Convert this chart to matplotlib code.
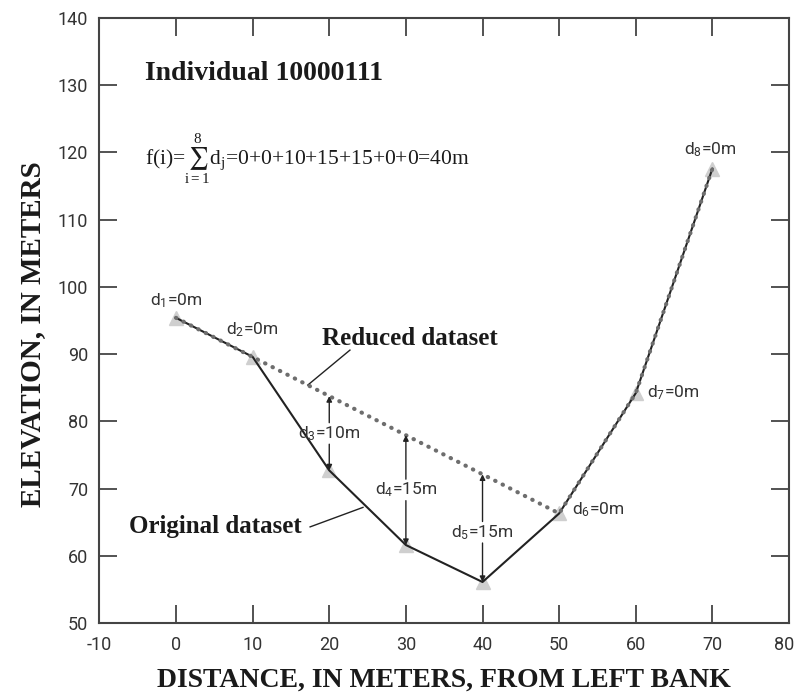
import matplotlib
matplotlib.use('Agg')
from matplotlib import pyplot as plt
from matplotlib.transforms import ScaledTranslation
import numpy as np

# original cross-section survey points
distance = [0, 10, 20, 30, 40, 50, 60, 70]
elevation = [95.4, 89.6, 72.7, 61.6, 56.1, 66.3, 84.2, 117.6]

# reduced dataset keeps points 1, 6, 7, 8
reduced_dist = [0, 50, 60, 70]
reduced_elev = [95.4, 66.3, 84.2, 117.6]

d_labels = ['d$_1$=0m', 'd$_2$=0m', 'd$_3$=10m', 'd$_4$=15m',
            'd$_5$=15m', 'd$_6$=0m', 'd$_7$=0m', 'd$_8$=0m']
x_ticks = list(range(-10, 81, 10))
y_ticks = list(range(50, 141, 10))

plt.rcParams['axes.unicode_minus'] = False
plt.rcParams['mathtext.fontset'] = 'custom'
plt.rcParams['mathtext.rm'] = 'Roboto'
plt.rcParams['mathtext.it'] = 'Roboto'
narrow = 'Roboto'
serif = 'Liberation Serif'
dcol = '#333333'

fig = plt.figure(figsize=(7.95, 6.94), dpi=100)
ax = fig.add_axes([0.125, 0.1023, 0.8675, 0.8717])

ax.plot(distance, elevation, ls='none', marker='^', ms=10,
        color='#cfcfcf', zorder=2)
ax.plot(distance, elevation, color='#222222', lw=1.5, zorder=3)
ax.plot(reduced_dist, reduced_elev, color='#6e6e6e', lw=3.0,
        ls=(0, (0.1, 1.9)), dash_capstyle='round', zorder=4)

# vertical distances between reduced and original line
label_y = {2: 78.2, 3: 69.8, 4: 63.5}
for i, ly in label_y.items():
    x = distance[i]
    top = np.interp(x, reduced_dist, reduced_elev)
    bot = elevation[i]
    ax.annotate('', xy=(x, top), xytext=(x, ly + 1.6),
                arrowprops=dict(arrowstyle='-|>', color='#222222', lw=1,
                                mutation_scale=8, shrinkA=0, shrinkB=0), zorder=5)
    ax.annotate('', xy=(x, bot), xytext=(x, ly - 1.6),
                arrowprops=dict(arrowstyle='-|>', color='#222222', lw=1,
                                mutation_scale=8, shrinkA=0, shrinkB=0), zorder=5)
    ax.text(x, ly, d_labels[i], ha='center', va='center', fontsize=12.5,
            family=narrow, color=dcol, zorder=6)

ax.text(0, 98.0, d_labels[0], ha='center', va='center', fontsize=12.5,
        family=narrow, color=dcol)
ax.text(10, 93.6, d_labels[1], ha='center', va='center', fontsize=12.5,
        family=narrow, color=dcol)
ax.text(51.7, 66.8, d_labels[5], ha='left', va='center', fontsize=12.5,
        family=narrow, color=dcol)
ax.text(61.4, 84.2, d_labels[6], ha='left', va='center', fontsize=12.5,
        family=narrow, color=dcol)
ax.text(69.7, 120.4, d_labels[7], ha='center', va='center', fontsize=12.5,
        family=narrow, color=dcol)

ax.text(-4.1, 131.8, 'Individual 10000111', family=serif, fontweight='bold',
        fontsize=20, ha='left', va='center', color='#1a1a1a')
ax.text(-4.1, 119.0,
        r'f(i)=$\sum_{\mathregular{i=1}}^{\mathregular{8}}$d$_\mathregular{j}$=0+0+10+15+15+0+0=40m',
        family=serif, fontsize=15.5, ha='left', va='center', color='#1a1a1a',
        math_fontfamily='stix')

ax.text(30.5, 92.4, 'Reduced dataset', family=serif, fontweight='bold',
        fontsize=18, ha='center', va='center', color='#1a1a1a')
ax.plot([22.7, 17.2], [90.6, 85.4], color='#222222', lw=1)
ax.text(5.1, 64.3, 'Original dataset', family=serif, fontweight='bold',
        fontsize=18, ha='center', va='center', color='#1a1a1a')
ax.plot([17.5, 24.4], [64.3, 67.2], color='#222222', lw=1)

ax.set_xlim(-10, 80)
ax.set_ylim(50, 140)
ax.set_xticks(x_ticks)
ax.set_yticks(y_ticks)
ax.tick_params(direction='in', length=13, width=1.3, color='#444444',
               labelsize=13, top=True, right=True)
ax.tick_params(axis='y', pad=8)
ax.tick_params(axis='x', pad=9)
for lab in ax.get_xticklabels() + ax.get_yticklabels():
    lab.set_family(narrow)
    lab.set_color(dcol)
# keep the last x tick label inside the image
last = ax.get_xticklabels()[-1]
last.set_transform(last.get_transform() +
                   ScaledTranslation(-5 / 100, 0, fig.dpi_scale_trans))
for s in ax.spines.values():
    s.set_color('#444444')
    s.set_linewidth(1.5)

ax.set_xlabel('DISTANCE, IN METERS, FROM LEFT BANK', family=serif,
              fontweight='bold', fontsize=20, labelpad=10, color='#1a1a1a')
ax.set_ylabel('ELEVATION, IN METERS', family=serif, fontweight='bold',
              fontsize=21, color='#1a1a1a')
ax.yaxis.set_label_coords(-0.078, 0.478)

fig.savefig('out.png', dpi=100)
